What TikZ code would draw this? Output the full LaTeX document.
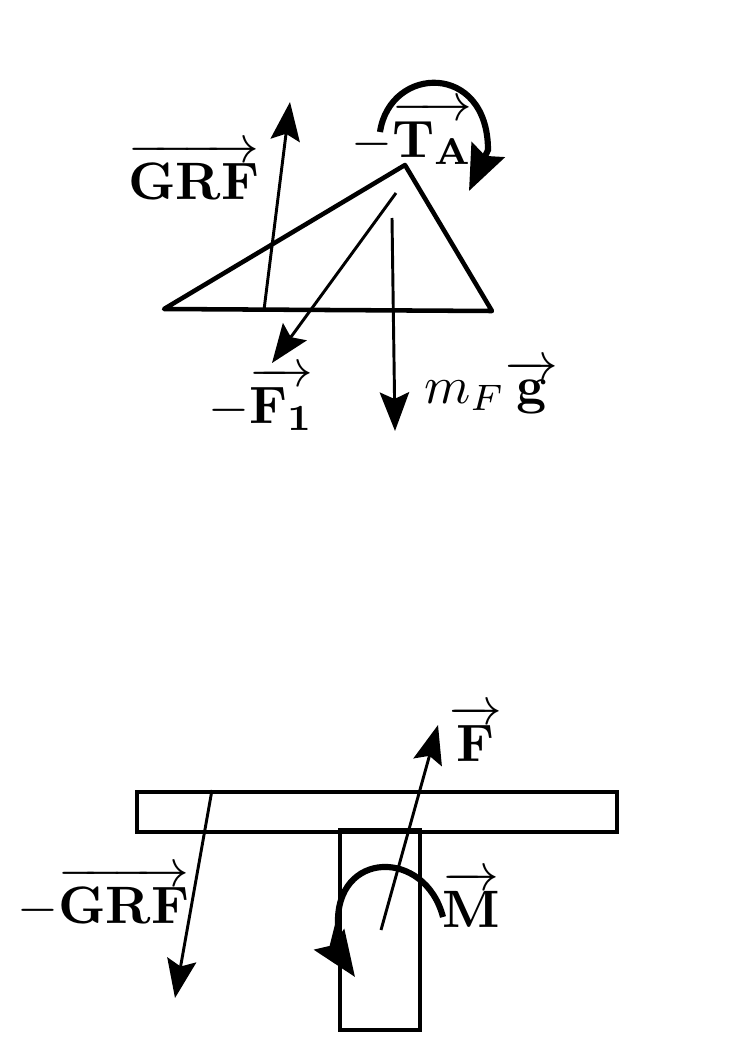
\documentclass[tikz,border=0pt]{standalone}
\usepackage{amsmath}
\usepackage{bm}
\usetikzlibrary{arrows.meta}
\tikzset{
	x=0.75pt, y=-0.75pt,
	label/.style={anchor=base west, inner sep=0, scale=3.95},
	body/.style={line width=2.4pt, line join=miter},
	foot/.style={line width=3.4pt, line cap=round, line join=round},
	force/.style={line width=2.2pt, -{Stealth[length=29pt, width=22pt, inset=5pt]}},
	moment/.style={line width=4.6pt, -{Stealth[length=34pt, width=27pt, inset=5pt]}},
}
\begin{document}
\begin{tikzpicture}
	\useasboundingbox (0,0) rectangle (745,1053);
	% foot
	\coordinate (heel) at (164,309);
	\coordinate (ankle) at (405,165);
	\coordinate (toe) at (492,311);
	\draw[foot] (heel) -- (ankle) -- (toe) -- cycle;
	\coordinate (grfA) at (264,310);
	\coordinate (grfB) at (290,102);
	\draw[force] (grfA) -- (grfB);
	\coordinate (f1A) at (396,193);
	\coordinate (f1B) at (272,363);
	\draw[force] (f1A) -- (f1B);
	\coordinate (mgA) at (392,218);
	\coordinate (mgB) at (395,431);
	\draw[force] (mgA) -- (mgB);
	\coordinate (taA) at (380,132);
	\coordinate (taC) at (488,150);
	\coordinate (taB) at (469,191);
	\draw[moment] (taA) .. controls (390,65) and (488,62) .. (taC) -- (taB);
	\node[label] (grfL) at (127,199) {$\overrightarrow{\mathbf{GRF}}$};
	\node[label] (taL) at (350,157) {$-\overrightarrow{\mathbf{T_A}}$};
	\node[label] (f1L) at (207,423) {$-\overrightarrow{\mathbf{F_1}}$};
	\node[label] (mgL) at (423,403) {$m_F\overrightarrow{\mathbf{g}}$};
	% shank
	\node[draw, body, inner sep=0, minimum width=360pt, minimum height=30pt] (plate) at (377,812) {};
	\node[draw, body, inner sep=0, minimum width=60pt, minimum height=150pt] (leg) at (380,930) {};
	\coordinate (nGrfA) at (212,790);
	\coordinate (nGrfB) at (175,998);
	\draw[force] (nGrfA) -- (nGrfB);
	\coordinate (fA) at (381,930);
	\coordinate (fB) at (438,725);
	\draw[force] (fA) -- (fB);
	\coordinate (mA) at (443,917);
	\coordinate (mC) at (338,925);
	\coordinate (mD) at (333,945);
	\coordinate (mB) at (355,977);
	\draw[moment] (mA) .. controls (425,848) and (335,850) .. (mC) -- (mD) -- (mB);
	\node[label] (nGrfL) at (16,923) {$-\overrightarrow{\mathbf{GRF}}$};
	\node[label] (fL) at (448,761) {$\overrightarrow{\mathbf{F}}$};
	\node[label] (mL) at (441,927) {$\overrightarrow{\mathbf{M}}$};
\end{tikzpicture}
\end{document}
